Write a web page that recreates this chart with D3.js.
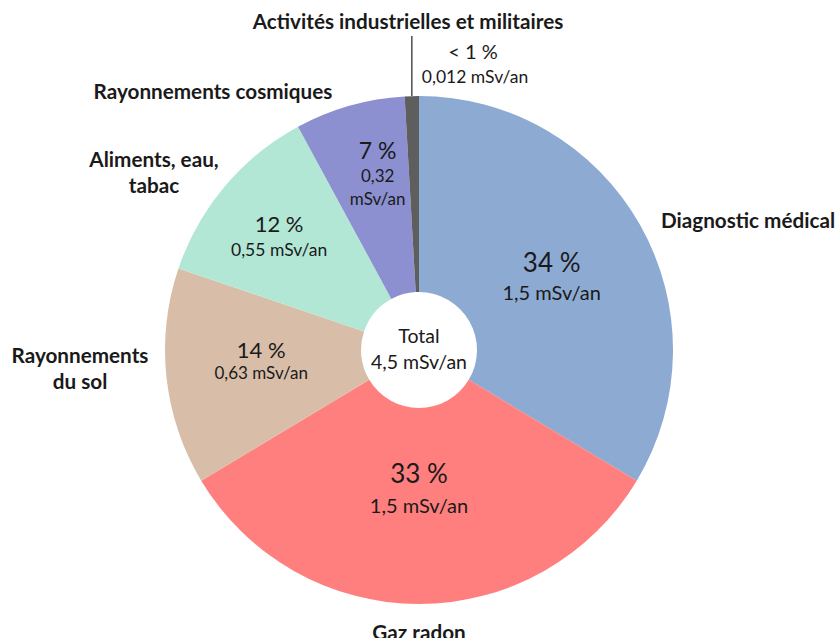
<!DOCTYPE html>
<html lang="fr">
<head>
<meta charset="utf-8">
<script src="https://cdn.jsdelivr.net/npm/d3@7"></script>
<style>
  body { margin: 0; background: #fff; }
  svg text { font-family: Lato, "Open Sans", sans-serif; fill: #1a1a1a; }
  .cat { font-weight: 700; }
</style>
</head>
<body>
<svg id="chart" width="835" height="638"></svg>
<script>
// Sources of exposure to ionising radiation (average dose per person)
const sources = [
  "Diagnostic médical",
  "Gaz radon",
  "Rayonnements\ndu sol",
  "Aliments, eau,\ntabac",
  "Rayonnements cosmiques",
  "Activités industrielles et militaires"
];
const shares = [33.6, 32.8, 13.8, 11.9, 7.0, 0.9];        // % of total dose
const doses  = [1.5, 1.5, 0.63, 0.55, 0.32, 0.012];       // mSv/an
const totalDose = 4.5;                                     // mSv/an
const colors = ["#8DAAD2", "#FF7F7F", "#D8BEA8", "#B3E7D5", "#8C8FD0", "#5E5E5E"];

// ---- layout ----
const W = 835, H = 638;
const cx = 419, cy = 350, R = 254, R0 = 58;

// value-label placement inside each slice: radius, angle tweak (deg), font sizes, line gap
const valueLayout = [
  { r: 154, da: -1,  big: 26, small: 20,   gap: 28 },
  { r: 133, da: 0,   big: 26, small: 20,   gap: 30 },
  { r: 158, da: 3.2, big: 22, small: 17,   gap: 21 },
  { r: 183, da: 0,   big: 22, small: 17.5, gap: 24 },
  { r: 195, da: 3.6, big: 23, small: 17,   gap: 23 }
];
// category-label anchors (centre x, first baseline y) and line height
const catLayout = [
  { x: 748, y: 228 },
  { x: 419, y: 640 },
  { x: 80,  y: 363 },
  { x: 154, y: 167 },
  { x: 213, y: 99 },
  { x: 408, y: 29 }
];
const catSize = 20.7, catLine = 26;

const fr = d3.formatLocale({ decimal: ",", thousands: "\u202f", grouping: [3], currency: ["", " €"] });
const fmtDose = v => fr.format("~g")(v) + " mSv/an";
const fmtShare = v => v < 1 ? "< 1 %" : Math.round(v) + " %";

const data = sources.map((name, i) => ({ name, share: shares[i], dose: doses[i], color: colors[i] }));

const svg = d3.select("#chart");
const g = svg.append("g").attr("transform", `translate(${cx},${cy})`);

const pie = d3.pie().sort(null).value(d => d.share);
const arcs = pie(data);
const arc = d3.arc().innerRadius(R0).outerRadius(R);

g.selectAll("path.slice")
  .data(arcs)
  .join("path")
  .attr("class", "slice")
  .attr("d", arc)
  .attr("fill", d => d.data.color);

// polar helper, angle in radians clockwise from 12 o'clock
const polar = (a, r) => [r * Math.sin(a), -r * Math.cos(a)];

// value labels inside the larger slices
arcs.slice(0, 5).forEach((d, i) => {
  const L = valueLayout[i];
  const a = (d.startAngle + d.endAngle) / 2 + L.da * Math.PI / 180;
  const [x, y] = polar(a, L.r);
  const lines = [{ t: fmtShare(d.data.share), s: L.big }];
  if (i === 4) {
    // narrow slice: dose split over two lines
    lines.push({ t: fr.format("~g")(d.data.dose), s: L.small });
    lines.push({ t: "mSv/an", s: L.small });
  } else {
    lines.push({ t: fmtDose(d.data.dose), s: L.small });
  }
  lines.forEach((ln, k) => {
    g.append("text")
      .attr("x", x).attr("y", y + k * L.gap)
      .attr("text-anchor", "middle")
      .style("font-size", ln.s + "px")
      .text(ln.t);
  });
});

// smallest slice: leader line up to its label
const tiny = arcs[5];
const tinyMid = (tiny.startAngle + tiny.endAngle) / 2;
const [lx, ly] = polar(tinyMid, R);
g.append("line")
  .attr("x1", lx).attr("y1", ly)
  .attr("x2", lx).attr("y2", 36 - cy)
  .attr("stroke", "#595959").attr("stroke-width", 1.6);

svg.append("text").attr("x", 473).attr("y", 59).attr("text-anchor", "middle")
  .style("font-size", "20px").text(fmtShare(tiny.data.share));
svg.append("text").attr("x", 475).attr("y", 83).attr("text-anchor", "middle")
  .style("font-size", "17.5px").text(fmtDose(tiny.data.dose));

// centre total
g.append("text").attr("x", 0).attr("y", -7).attr("text-anchor", "middle")
  .style("font-size", "19.5px").text("Total");
g.append("text").attr("x", 0).attr("y", 18.5).attr("text-anchor", "middle")
  .style("font-size", "19.5px").text(fmtDose(totalDose));

// category names
data.forEach((d, i) => {
  const L = catLayout[i];
  const t = svg.append("text").attr("class", "cat")
    .attr("text-anchor", "middle")
    .style("font-size", catSize + "px");
  d.name.split("\n").forEach((line, k) => {
    t.append("tspan").attr("x", L.x).attr("y", L.y + k * catLine).text(line);
  });
});
</script>
</body>
</html>
